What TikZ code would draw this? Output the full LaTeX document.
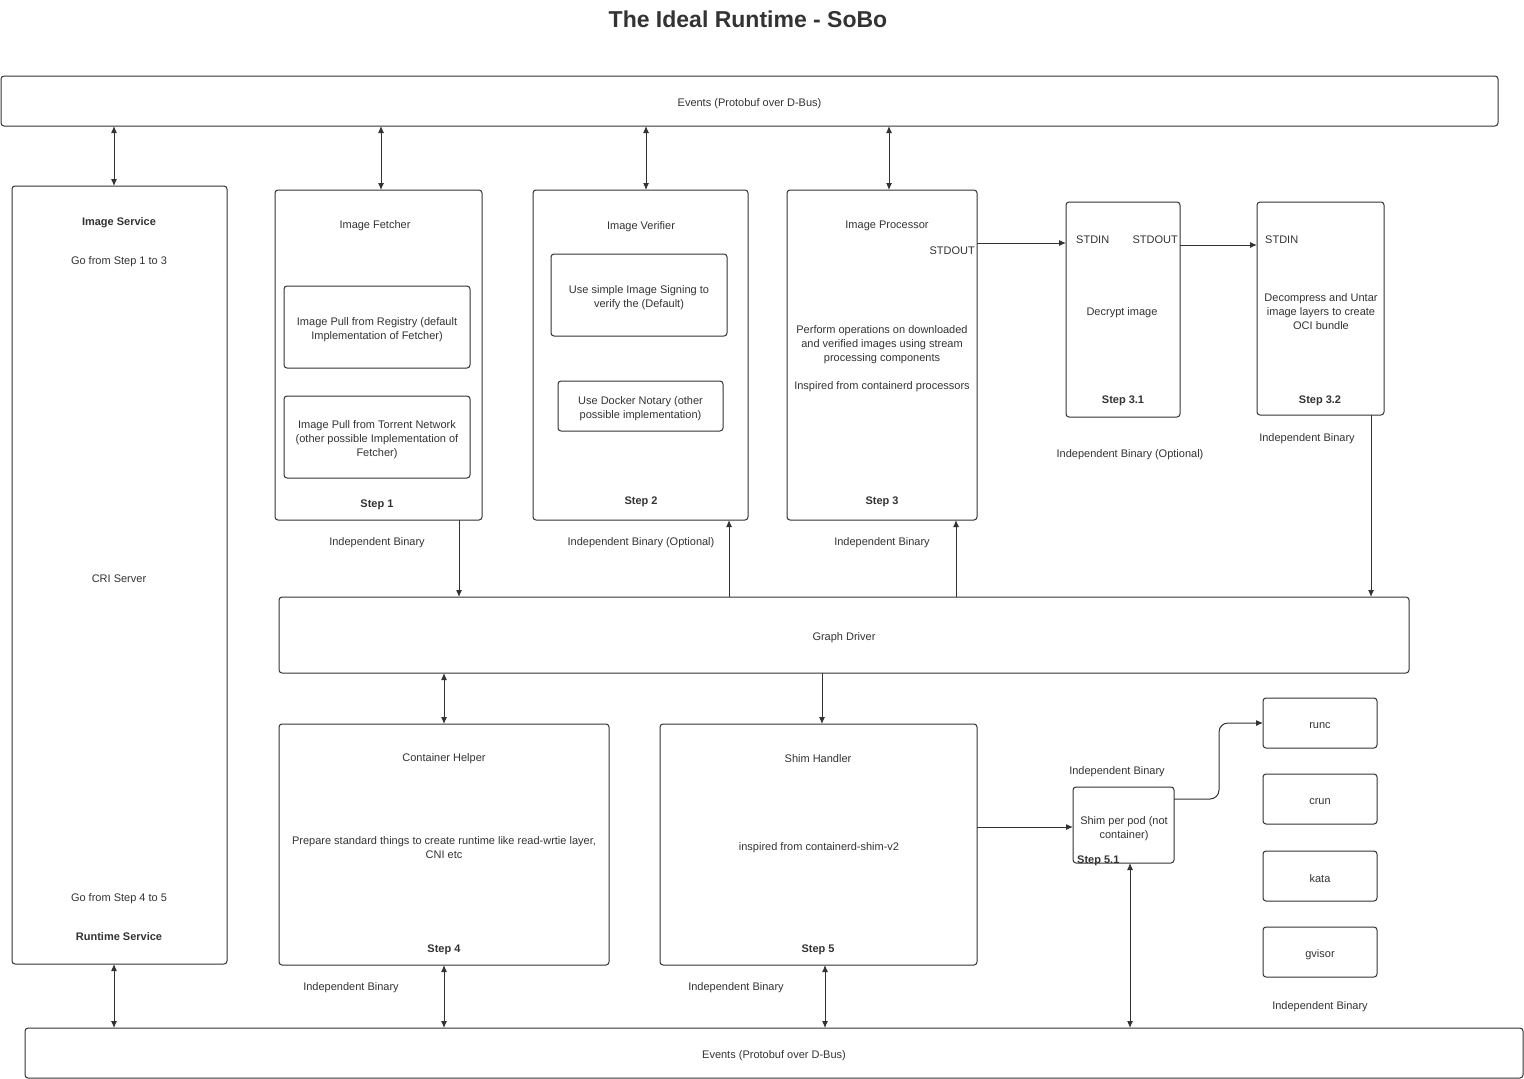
\documentclass[tikz,border=0pt]{standalone}
\usepackage{fontspec}
\setmainfont{Liberation Sans}
\usetikzlibrary{arrows.meta}
\definecolor{lc}{HTML}{333333}
\definecolor{tc}{HTML}{333333}
\tikzset{
  box/.style={draw=lc, line width=1pt, rounded corners=3pt, inner sep=0pt, outer sep=0pt, anchor=north west},
  txt/.style={font=\fontsize{11}{14}\selectfont, text=tc, align=center, inner sep=0pt, yshift=-2.3pt},
  btxt/.style={txt, font=\fontsize{11}{14}\selectfont\bfseries},
  arr/.tip={Latex[length=7pt,width=6pt]},
  conn/.style={draw=lc, line width=1pt, -arr},
  biconn/.style={draw=lc, line width=1pt, arr-arr},
}
\begin{document}
\begin{tikzpicture}[x=1pt,y=-1pt]
\fill[white] (0,0) rectangle (1524,1079);
\useasboundingbox (0,0) rectangle (1524,1079);

% title
\node[font=\fontsize{23}{27}\selectfont\bfseries, text=tc, inner sep=0pt] (title) at (748,19.5) {The Ideal Runtime - SoBo};

% event buses
\node[box, minimum width=1497, minimum height=50] (evtop) at (1,76) {};
\node[txt] (t-evtop) at (evtop.center) {Events (Protobuf over D-Bus)};
\node[box, minimum width=1498, minimum height=50] (evbot) at (25,1028) {};
\node[txt] (t-evbot) at (evbot.center) {Events (Protobuf over D-Bus)};

% CRI server
\node[box, minimum width=215, minimum height=778] (imgsvc) at (12,186) {};
\node[btxt] (t-is) at (119,220) {Image Service};
\node[txt] (t-g13) at (119,259) {Go from Step 1 to 3};
\node[txt] (t-cri) at (119,576) {CRI Server};
\node[txt] (t-g45) at (119,896) {Go from Step 4 to 5};
\node[btxt] (t-rs) at (119,934) {Runtime Service};

% Image fetcher
\node[box, minimum width=207, minimum height=330] (fetch) at (275,190) {};
\node[txt] (t-if) at (375,223) {Image Fetcher};
\node[box, minimum width=186, minimum height=82] (pull1) at (284,286) {};
\node[txt] (t-pull1) at (pull1.center) {Image Pull from Registry (default\\Implementation of Fetcher)};
\node[box, minimum width=186, minimum height=82] (pull2) at (284,396) {};
\node[txt] (t-pull2) at (pull2.center) {Image Pull from Torrent Network\\(other possible Implementation of\\Fetcher)};
\node[btxt] (t-s1) at (377,502) {Step 1};
\node[txt] (t-ib1) at (377,540) {Independent Binary};

% Image verifier
\node[box, minimum width=215, minimum height=330] (verif) at (533,190) {};
\node[txt] (t-iv) at (641,224) {Image Verifier};
\node[box, minimum width=176, minimum height=82] (sign) at (551,254) {};
\node[txt] (t-sign) at (sign.center) {Use simple Image Signing to\\verify the (Default)};
\node[box, minimum width=165, minimum height=50] (notary) at (558,381) {};
\node[txt] (t-notary) at (notary.center) {Use Docker Notary (other\\possible implementation)};
\node[btxt] (t-s2) at (641,499) {Step 2};
\node[txt] (t-ib2) at (641,540) {Independent Binary (Optional)};

% Image processor
\node[box, minimum width=190, minimum height=330] (proc) at (787,190) {};
\node[txt] (t-ip) at (887,224) {Image Processor};
\node[txt, anchor=east] (t-so) at (975,248) {STDOUT};
\node[txt] (t-pb) at (882,356) {Perform operations on downloaded\\and verified images using stream\\processing components\\[14pt]Inspired from containerd processors};
\node[btxt] (t-s3) at (882,499) {Step 3};
\node[txt] (t-ib3) at (882,540) {Independent Binary};

% Decrypt
\node[box, minimum width=114, minimum height=215] (decr) at (1066,202) {};
\node[txt, anchor=west] (t-di) at (1076,237) {STDIN};
\node[txt, anchor=east] (t-do) at (1178,237) {STDOUT};
\node[txt] (t-dec) at (1122,310) {Decrypt image};
\node[btxt] (t-s31) at (1123,398) {Step 3.1};
\node[txt] (t-ib31) at (1130,452) {Independent Binary (Optional)};

% Decompress
\node[box, minimum width=127, minimum height=213] (decomp) at (1257,202) {};
\node[txt, anchor=west] (t-ci) at (1265,237) {STDIN};
\node[txt] (t-dcm) at (1321,309) {Decompress and Untar\\image layers to create\\OCI bundle};
\node[btxt] (t-s32) at (1320,398) {Step 3.2};
\node[txt] (t-ib32) at (1307,436) {Independent Binary};

% Graph driver
\node[box, minimum width=1130, minimum height=76] (graph) at (279,597) {};
\node[txt] (t-graph) at (graph.center) {Graph Driver};

% Container helper
\node[box, minimum width=330, minimum height=241] (helper) at (279,724) {};
\node[txt] (t-ch) at (444,756) {Container Helper};
\node[txt] (t-chb) at (444,845) {Prepare standard things to create runtime like read-wrtie layer,\\CNI etc};
\node[btxt] (t-s4) at (444,947) {Step 4};
\node[txt] (t-ib4) at (351,985) {Independent Binary};

% Shim handler
\node[box, minimum width=317, minimum height=241] (shimh) at (660,724) {};
\node[txt] (t-sh) at (818,756) {Shim Handler};
\node[txt] (t-shb) at (819,845) {inspired from containerd-shim-v2};
\node[btxt] (t-s5) at (818,947) {Step 5};
\node[txt] (t-ib5) at (736,985) {Independent Binary};

% Shim per pod
\node[box, minimum width=101, minimum height=76] (shimpod) at (1073,787) {};
\node[txt] (t-sp) at (1124,826) {Shim per pod (not\\container)};
\node[btxt, anchor=west] (t-s51) at (1077,858) {Step 5.1};
\node[txt] (t-ib51) at (1117,769) {Independent Binary};

% runtimes
\node[box, minimum width=114, minimum height=50] (runc) at (1263,698) {};
\node[txt] (t-runc) at (runc.center) {runc};
\node[box, minimum width=114, minimum height=50] (crun) at (1263,774) {};
\node[txt] (t-crun) at (crun.center) {crun};
\node[box, minimum width=114, minimum height=50] (kata) at (1263,851) {};
\node[txt] (t-kata) at (kata.center) {kata};
\node[box, minimum width=114, minimum height=50] (gvisor) at (1263,927) {};
\node[txt] (t-gvisor) at (gvisor.center) {gvisor};
\node[txt] (t-ibr) at (1320,1004) {Independent Binary};

% connectors to top bus
\draw[biconn] (evtop.south -| 114,0) -- (imgsvc.north -| 114,0);
\draw[biconn] (evtop.south -| 381,0) -- (fetch.north -| 381,0);
\draw[biconn] (evtop.south -| 646,0) -- (verif.north -| 646,0);
\draw[biconn] (evtop.south -| 889,0) -- (proc.north -| 889,0);

% stream pipes
\draw[conn] (proc.east |- 0,243) -- (decr.west |- 0,243);
\draw[conn] (decr.east |- 0,245) -- (decomp.west |- 0,245);

% graph driver connections
\draw[conn] (decomp.south -| 1371,0) -- (graph.north -| 1371,0);
\draw[conn] (fetch.south -| 459,0) -- (graph.north -| 459,0);
\draw[conn] (graph.north -| 729,0) -- (verif.south -| 729,0);
\draw[conn] (graph.north -| 956,0) -- (proc.south -| 956,0);
\draw[biconn] (graph.south -| 444,0) -- (helper.north -| 444,0);
\draw[conn] (graph.south -| 822,0) -- (shimh.north -| 822,0);

% shim
\draw[conn] (shimh.east |- 0,827) -- (shimpod.west |- 0,827);
\draw[conn, rounded corners=9pt] (shimpod.east |- 0,799) -- (1219,799) -- (1219,723) -- (runc.west |- 0,723);

% connectors to bottom bus
\draw[biconn] (imgsvc.south -| 114,0) -- (evbot.north -| 114,0);
\draw[biconn] (helper.south -| 444,0) -- (evbot.north -| 444,0);
\draw[biconn] (shimh.south -| 825,0) -- (evbot.north -| 825,0);
\draw[biconn] (shimpod.south -| 1130,0) -- (evbot.north -| 1130,0);
\end{tikzpicture}
\end{document}
